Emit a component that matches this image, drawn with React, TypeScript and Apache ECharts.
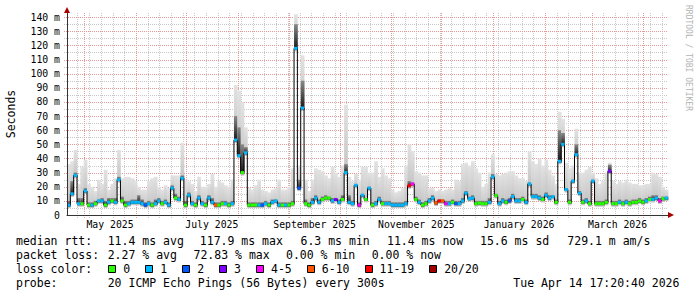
import React, { useEffect, useRef } from 'react';
import * as echarts from 'echarts';

// ---- time base (rrdtool fixed step) ----
const startTime = Date.UTC(2025, 3, 20, 17, 20);
const DAY = 86400000;
const stepDays = 2;
const STEP = stepDays * DAY;

// ---- data (ms) ----
const medianMs = [
  7, 15, 28, 8, 8, 17, 7, 7, 8, 10, 10, 7, 9, 10, 9, 25, 10, 7, 8, 9,
  9, 9, 8, 7, 8, 7, 8, 10, 8, 9, 7, 19, 12, 11, 26, 7, 14, 8, 7, 12,
  8, 7, 12, 9, 7, 7, 8, 8, 7, 8, 53, 42, 30, 44, 7, 7, 7, 7, 7, 8,
  7, 9, 10, 7, 7, 7, 7, 8, 117.9, 19, 75.7, 8, 7, 9, 12, 9, 11, 12, 12, 10,
  11, 9, 11, 30, 9, 8, 21, 7, 14, 11, 19, 7, 8, 11, 8, 8, 8, 7, 7, 7,
  7, 8, 20.7, 22, 11, 9, 7, 8, 10, 12, 8.5, 10, 10, 8, 8, 9, 8, 8, 10, 15.5,
  11.5, 12, 8, 8.5, 8, 8, 9, 27, 13.7, 8, 10, 9, 10, 13, 10, 10, 11, 9, 22, 13,
  13, 12, 11, 14, 12, 13, 9, 38, 50, 18, 9, 24, 42.7, 15.5, 9, 10, 8, 24, 8, 8,
  8, 9, 31, 8, 8, 9, 8, 9, 8, 9, 9, 10, 9, 10, 11, 11, 12, 10, 11.5, 12,
];
const darkTopMs = [
  10, 24, 30, 12, 12, 19, 9, 9, 10, 11, 12, 10, 12, 12, 12, 27, 13, 10, 10, 11,
  11, 14, 11, 9, 10, 9, 11, 12, 10, 11, 9, 21, 15, 13, 28, 10, 16, 10, 9, 14,
  10, 9, 14, 12, 9, 9, 10, 10, 9, 10, 70, 62, 50, 48, 9, 9, 9, 9, 9, 10,
  9, 11, 11, 9, 9, 9, 9, 10, 135, 25, 95, 11, 9, 12, 14, 11, 13, 14, 13, 12,
  12, 11, 14, 36, 14, 10, 22, 9, 15, 12, 20, 9, 10, 13, 10, 10, 10, 9, 9, 9,
  9, 10, 24, 23, 13, 11, 9, 10, 12, 14, 10, 11, 11, 10, 10, 11, 10, 10, 12, 17,
  13, 14, 10, 10, 10, 10, 12, 29, 15, 10, 12, 11, 12, 15, 12, 12, 13, 11, 23, 15,
  15, 14, 13, 16, 14, 14, 11, 60, 58, 19, 11, 25, 50, 17, 11, 12, 10, 25, 10, 10,
  10, 11, 35.6, 10, 10, 11, 10, 11, 10, 11, 11, 12, 11, 12, 13, 14, 14, 12, 13, 13,
];
const maxMs = [
  36, 38, 46, 22, 34, 39, 22, 20, 17, 25, 22, 32, 18, 22, 26, 46, 26, 27, 27, 26,
  24, 20, 18, 18, 24, 26, 27, 20, 18, 21, 19, 28, 28, 28, 51, 25, 24, 22, 17, 27,
  20, 20, 22, 29, 20, 24, 23, 21, 20, 25, 92, 88, 80, 62, 19, 18, 21, 25, 18, 17,
  16, 18, 19, 25, 18, 18, 20, 33, 142, 35, 113, 25, 17, 25, 33, 32, 31, 28, 26, 34,
  30, 27, 35, 78, 27, 24, 29, 25, 34, 34, 30, 30, 38, 27, 33, 28, 26, 18, 16, 17,
  19, 35, 50, 45, 31, 30, 28, 28, 19, 19, 17, 18, 17, 18, 19, 18, 25, 24, 36, 37,
  35, 38, 33, 30, 20, 22, 30, 43, 29, 28, 29, 30, 31, 31, 28, 26, 26, 24, 45, 38,
  36, 40, 35, 39, 32, 28, 22, 73, 68, 37, 33, 35, 61, 30, 30, 32, 34, 30, 26, 22,
  24, 30, 37, 24, 22, 24, 23, 25, 23, 22, 22, 21, 21, 22, 22, 30, 29, 27, 20, 18,
];
const lostPings = [
  1, 1, 1, 1, 0, 1, 0, 1, 0, 1, 1, 0, 1, 0, 1, 1, 0, 0, 1, 1,
  1, 1, 1, 2, 1, 0, 1, 1, 0, 1, 1, 1, 0, 1, 1, 0, 1, 1, 0, 1,
  1, 0, 1, 1, 6, 0, 0, 1, 0, 1, 1, 1, 0, 1, 0, 0, 0, 1, 2, 1,
  0, 1, 1, 1, 0, 1, 0, 0, 1, 2, 1, 0, 0, 1, 1, 1, 0, 0, 0, 1,
  3, 1, 0, 1, 1, 1, 1, 4, 1, 0, 1, 0, 1, 1, 0, 1, 1, 1, 1, 1,
  1, 1, 11, 4, 0, 1, 0, 0, 1, 1, 6, 11, 6, 4, 1, 0, 2, 1, 1, 1,
  1, 1, 0, 0, 0, 0, 1, 1, 0, 1, 1, 0, 2, 1, 1, 1, 0, 1, 1, 1,
  1, 1, 0, 1, 1, 1, 0, 1, 1, 1, 0, 1, 1, 1, 0, 1, 0, 1, 0, 0,
  0, 0, 3, 0, 0, 1, 0, 1, 0, 0, 0, 0, 0, 1, 0, 1, 1, 4, 0, 1,
];

// ---- axis / legend texts ----
const yTicks = [0, 10, 20, 30, 40, 50, 60, 70, 80, 90, 100, 110, 120, 130, 140];
const yMax = 142.9;
const monthStarts = [
  '2025-05-01', '2025-06-01', '2025-07-01', '2025-08-01', '2025-09-01', '2025-10-01',
  '2025-11-01', '2025-12-01', '2026-01-01', '2026-02-01', '2026-03-01', '2026-04-01',
];
const labelMonths = ['2025-05', '2025-07', '2025-09', '2025-11', '2026-01', '2026-03'];
const monthNames = ['May 2025', 'July 2025', 'September 2025', 'November 2025', 'January 2026', 'March 2026'];
const lossLegend = ['0', '1', '2', '3', '4-5', '6-10', '11-19', '20/20'];
const lossUpper = [0, 1, 2, 3, 5, 10, 19, 20];
const lossColors = ['#26ff00', '#00b8ff', '#0059ff', '#7e00ff', '#ff00ff', '#ff5500', '#ff0000', '#a10000'];

const line1 = [['median rtt:', 16], ['11.4 ms avg', 107.7], ['117.9 ms max', 199.8], ['6.3 ms min', 300.5], ['11.4 ms now', 387], ['15.6 ms sd', 480], ['729.1 m am/s', 567.3]];
const line2 = [['packet loss:', 16], ['2.27 % avg', 107.7], ['72.83 % max', 193.5], ['0.00 % min', 286], ['0.00 % now', 371.7]];
const line4 = [['probe:', 16], ['20 ICMP Echo Pings (56 Bytes) every 300s', 107.7], ['Tue Apr 14 17:20:40 2026', 513.3]];

const MONO = '"DejaVu Sans Mono", monospace';
const MAJOR = '#e79a9a';
const MINOR = '#c8c8c8';

const endTime = startTime + medianMs.length * STEP;
const parseDay = (s: string) => {
  const [y, m, d] = s.split('-').map(Number);
  return Date.UTC(y, m - 1, d || 1);
};
const monthStartMs = monthStarts.map(parseDay);
const labelMids = labelMonths.map((s) => {
  const [y, m] = s.split('-').map(Number);
  return (Date.UTC(y, m - 1, 1) + Date.UTC(y, m, 1)) / 2;
});

const lossColor = (n: number) => {
  for (let k = 0; k < lossUpper.length; k++) if (n <= lossUpper[k]) return lossColors[k];
  return lossColors[lossColors.length - 1];
};

function buildOption() {
  const rows = medianMs.map((m, i) => [startTime + (i + 0.5) * STEP, m, darkTopMs[i], maxMs[i], lostPings[i]]);

  // grid lines: [x, y, kind]  kind 0 = h minor, 1 = h major, 2 = v minor, 3 = v major
  const gridRows: number[][] = [];
  const d0 = new Date(startTime);
  let firstSunday = Date.UTC(d0.getUTCFullYear(), d0.getUTCMonth(), d0.getUTCDate());
  while (new Date(firstSunday).getUTCDay() !== 0 || firstSunday <= startTime) firstSunday += DAY;
  for (let t = firstSunday; t < endTime; t += 7 * DAY) gridRows.push([t, 0, 2]);
  yTicks.slice(0, -1).forEach((v) => gridRows.push([startTime, v + 5, 0]));
  yTicks.slice(1).forEach((v) => gridRows.push([startTime, v, 1]));
  monthStartMs.forEach((t) => gridRows.push([t, 0, 3]));

  const graphics: any[] = [];
  graphics.push({
    type: 'text', x: 11, y: 114, rotation: Math.PI / 2,
    style: { text: 'Seconds', font: `11.5px ${MONO}`, fill: '#000', align: 'center', verticalAlign: 'middle' },
  });
  graphics.push({
    type: 'text', x: 688.5, y: 5, rotation: -Math.PI / 2,
    style: { text: 'RRDTOOL / TOBI OETIKER', font: `8px ${MONO}`, fill: '#b4b4b4', align: 'left', verticalAlign: 'middle' },
  });
  graphics.push({ type: 'polygon', z: 100, shape: { points: [[64, 13], [70, 13], [67, 7]] }, style: { fill: '#a80000' } });
  graphics.push({ type: 'polygon', z: 100, shape: { points: [[668, 212], [668, 218], [674, 215]] }, style: { fill: '#a80000' } });

  const addLine = (items: any[], y: number) => {
    items.forEach(([text, x]) => {
      graphics.push({ type: 'text', x, y, style: { text, font: `11.5px ${MONO}`, fill: '#000', align: 'left', verticalAlign: 'middle' } });
    });
  };
  addLine(line1, 241);
  addLine(line2, 255);
  addLine([['loss color:', 16]], 269);
  addLine(line4, 283);
  let bx = 108.3;
  lossLegend.forEach((lab, k) => {
    graphics.push({ type: 'rect', shape: { x: Math.round(bx) + 0.5, y: 265.5, width: 7, height: 7 }, style: { fill: lossColors[k], stroke: '#000', lineWidth: 1 } });
    graphics.push({ type: 'text', x: bx + 15, y: 269, style: { text: lab, font: `11.5px ${MONO}`, fill: '#000', align: 'left', verticalAlign: 'middle' } });
    bx += 14 + lab.length * 6.93 + 16;
  });

  return {
    animation: false,
    backgroundColor: '#ffffff',
    grid: { left: 67, right: 29, top: 13, bottom: 82 },
    xAxis: {
      type: 'value', min: startTime, max: endTime, z: 20,
      axisLine: { show: true, lineStyle: { color: '#333', width: 1 } },
      axisTick: { show: false },
      splitLine: { show: false },
      axisLabel: {
        customValues: labelMids,
        formatter: (v: number) => {
          const k = labelMids.findIndex((m) => Math.abs(m - v) < DAY);
          return k >= 0 ? monthNames[k] : '';
        },
        fontFamily: MONO, fontSize: 9.8, color: '#000', margin: 4,
      },
    },
    yAxis: {
      type: 'value', min: 0, max: yMax, interval: 10, z: 20,
      axisLine: { show: true, lineStyle: { color: '#333', width: 1 } },
      axisTick: { show: false },
      splitLine: { show: false },
      axisLabel: {
        formatter: (v: number) => (v === 0 ? '0' : (Math.abs(v % 10) < 1e-6 && v <= 140 ? `${v} m` : '')),
        fontFamily: MONO, fontSize: 9.8, color: '#000', margin: 7,
      },
    },
    graphic: { elements: graphics },
    series: [
      {
        name: 'grid', type: 'custom', z: 1, silent: true,
        data: gridRows, encode: { x: 0, y: 1 },
        renderItem: (params: any, api: any) => {
          const cs = params.coordSys;
          const kind = api.value(2);
          const p = api.coord([api.value(0), api.value(1)]);
          const stroke = kind === 1 || kind === 3 ? MAJOR : MINOR;
          if (kind < 2) {
            const y = Math.round(p[1]) + 0.5;
            return { type: 'line', shape: { x1: cs.x - 3, y1: y, x2: cs.x + cs.width, y2: y }, style: { stroke, lineWidth: 1, lineDash: [1, 1] } };
          }
          const x = Math.round(p[0]) + 0.5;
          return { type: 'line', shape: { x1: x, y1: cs.y, x2: x, y2: cs.y + cs.height + 3 }, style: { stroke, lineWidth: 1, lineDash: [1, 1] } };
        },
      },
      {
        name: 'smoke', type: 'custom', z: 2, silent: true,
        data: rows, encode: { x: 0, y: [1, 2, 3] },
        renderItem: (params: any, api: any) => {
          const t = api.value(0);
          const pm = api.coord([t, api.value(1)]);
          const pd = api.coord([t, api.value(2)]);
          const px = api.coord([t, api.value(3)]);
          const w = api.size([STEP, 0])[0];
          const x0 = pm[0] - w / 2;
          return {
            type: 'group',
            children: [
              {
                type: 'rect', shape: { x: x0, y: px[1], width: w + 0.4, height: pm[1] + 3 - px[1] },
                style: { fill: { type: 'linear', x: 0, y: 0, x2: 0, y2: 1, colorStops: [{ offset: 0, color: '#e2e2e2' }, { offset: 1, color: '#c2c2c2' }] } },
              },
              {
                type: 'rect', shape: { x: x0, y: pd[1], width: w + 0.4, height: pm[1] + 1.5 - pd[1] },
                style: { fill: { type: 'linear', x: 0, y: 0, x2: 0, y2: 1, colorStops: [{ offset: 0, color: '#8a8a8a' }, { offset: 1, color: '#141414' }] } },
              },
            ],
          };
        },
      },
      {
        name: 'median', type: 'line', step: 'middle', z: 3, symbol: 'none', silent: true,
        data: rows.map((r) => [r[0], r[1]]),
        lineStyle: { color: '#000', width: 1 },
      },
      {
        name: 'loss', type: 'custom', z: 10, silent: true,
        data: rows, encode: { x: 0, y: 1 },
        renderItem: (params: any, api: any) => {
          const t = api.value(0);
          const pm = api.coord([t, api.value(1)]);
          const w = api.size([STEP, 0])[0];
          return {
            type: 'rect', shape: { x: pm[0] - w / 2, y: pm[1] - 1.5, width: w, height: 3 },
            style: { fill: lossColor(api.value(4)) },
          };
        },
      },
    ],
  };
}

export default function App() {
  const ref = useRef<HTMLDivElement>(null);
  useEffect(() => {
    const chart = echarts.init(ref.current!, null, { renderer: 'svg' });
    chart.setOption(buildOption() as any);
    return () => chart.dispose();
  }, []);
  return <div ref={ref} style={{ position: 'fixed', left: 0, top: 0, width: 697, height: 297, background: '#fff' }} />;
}
